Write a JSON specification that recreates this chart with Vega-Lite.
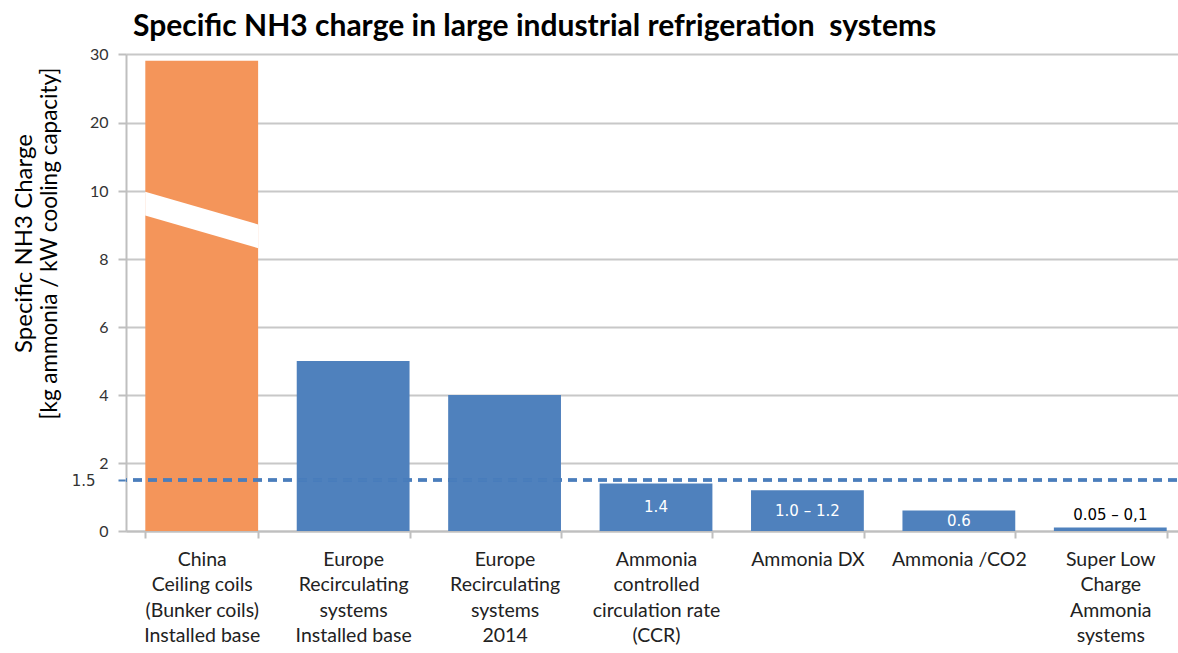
{
  "$schema": "https://vega.github.io/schema/vega-lite/v6.json",
  "width": 1051,
  "height": 477,
  "autosize": {"type": "none"},
  "padding": {"left": 126, "top": 54, "right": 1, "bottom": 122},
  "background": "white",
  "title": {
    "text": "Specific NH3 charge in large industrial refrigeration\u00a0 systems",
    "anchor": "start",
    "frame": "group",
    "font": "Lato",
    "fontSize": 30,
    "fontWeight": "bold",
    "color": "#000000",
    "baseline": "alphabetic",
    "offset": -20,
    "dx": 7
  },
  "config": {"view": {"stroke": null}, "font": "Lato"},
  "data": {
    "values": [
      {"cat": "China\nCeiling coils\n(Bunker coils)\nInstalled base", "value": 29, "label": ""},
      {"cat": "Europe\nRecirculating\nsystems\nInstalled base", "value": 5, "label": ""},
      {"cat": "Europe\nRecirculating\nsystems\n2014", "value": 4, "label": ""},
      {"cat": "Ammonia\ncontrolled\ncirculation rate\n(CCR)", "value": 1.4, "label": "1.4"},
      {"cat": "Ammonia DX", "value": 1.2, "label": "1.0 – 1.2"},
      {"cat": "Ammonia /CO2", "value": 0.6, "label": "0.6"},
      {"cat": "Super Low\nCharge\nAmmonia\nsystems", "value": 0.1, "label": "0.05 – 0,1"}
    ]
  },
  "resolve": {"axis": {"y": "independent"}},
  "layer": [
    {
      "mark": {"type": "bar"},
      "encoding": {
        "x": {
          "field": "cat",
          "type": "nominal",
          "sort": null,
          "scale": {"range": [0, 1060], "paddingInner": 0.255, "paddingOuter": 0.1275},
          "axis": {
            "title": null,
            "labelExpr": "split(datum.label, '\\n')",
            "labelAngle": 0,
            "labelFont": "Lato",
            "labelFontSize": 19.5,
            "labelLineHeight": 25.5,
            "labelColor": "#222222",
            "labelPadding": 12,
            "labelOverlap": false,
            "labelBound": false,
            "labelLimit": 400,
            "tickBand": "extent",
            "tickSize": 7,
            "tickColor": "#bfbfbf",
            "tickWidth": 2,
            "domainColor": "#bfbfbf",
            "domainWidth": 2,
            "grid": false
          }
        },
        "y": {
          "field": "value",
          "type": "quantitative",
          "scale": {"domain": [0, 10, 30], "range": [477, 137, 0], "nice": false, "zero": false},
          "axis": {
            "orient": "left",
            "title": "[kg ammonia / kW cooling capacity]",
            "titleFont": "Lato",
            "titleFontSize": 22.5,
            "titleFontWeight": "normal",
            "titleColor": "#000000",
            "titleAngle": -90,
            "titleAlign": "center",
            "titleBaseline": "middle",
            "titleX": -77,
            "titleY": 189,
            "values": [0, 1.5, 2, 4, 6, 8, 10, 20, 30],
            "labelExpr": "'' + datum.value",
            "labelOverlap": false,
            "labelColor": "#333333",
            "labelFont": {"condition": {"test": "datum.value === 1.5", "value": "DejaVu Sans"}, "value": "Lato"},
            "labelFontSize": {"condition": {"test": "datum.value === 1.5", "value": 15}, "value": 16},
            "labelPadding": {"condition": {"test": "datum.value === 1.5", "value": 23}, "value": 10},
            "tickSize": 8,
            "tickWidth": 2,
            "tickColor": {"condition": {"test": "datum.value === 1.5", "value": "#4a7ebb"}, "value": "#bfbfbf"},
            "domainColor": "#bfbfbf",
            "domainWidth": 2,
            "gridColor": "#c8c8c8",
            "gridWidth": 2,
            "gridOpacity": {"condition": {"test": "datum.value === 1.5", "value": 0}, "value": 1}
          }
        },
        "color": {
          "condition": {"test": "datum.value > 10", "value": "#f4955a"},
          "value": "#4f81bd"
        }
      }
    },
    {
      "transform": [{"filter": "datum.value > 10"}],
      "mark": {
        "type": "point",
        "shape": "M-1,-0.5L1,0.08L1,0.5L-1,-0.08Z",
        "filled": true,
        "color": "white",
        "opacity": 1,
        "strokeWidth": 0,
        "size": 12769
      },
      "encoding": {
        "x": {"field": "cat", "type": "nominal", "sort": null},
        "y": {"datum": 9.15, "type": "quantitative", "axis": null}
      }
    },
    {
      "mark": {"type": "rule", "color": "#4a7ebb", "strokeWidth": 2.5, "strokeDash": [9, 6]},
      "encoding": {
        "y": {
          "datum": 1.5,
          "type": "quantitative",
          "axis": {
            "orient": "left",
            "title": "Specific NH3 Charge",
            "titleFont": "Lato",
            "titleFontSize": 24,
            "titleFontWeight": "normal",
            "titleColor": "#000000",
            "titleAngle": -90,
            "titleAlign": "center",
            "titleBaseline": "middle",
            "titleX": -102,
            "titleY": 189,
            "labels": false,
            "ticks": false,
            "domain": false,
            "grid": false
          }
        }
      }
    },
    {
      "transform": [{"filter": "datum.label != ''"}],
      "mark": {
        "type": "text",
        "font": "DejaVu Sans",
        "fontSize": 15,
        "baseline": "middle",
        "dy": {"expr": "datum.value < 0.3 ? -13 : (scale('y', 0) - scale('y', datum.value)) / 2"}
      },
      "encoding": {
        "x": {"field": "cat", "type": "nominal", "sort": null},
        "y": {"field": "value", "type": "quantitative", "axis": null},
        "text": {"field": "label"},
        "color": {
          "condition": {"test": "datum.value < 0.3", "value": "#000000"},
          "value": "#ffffff"
        }
      }
    }
  ]
}
